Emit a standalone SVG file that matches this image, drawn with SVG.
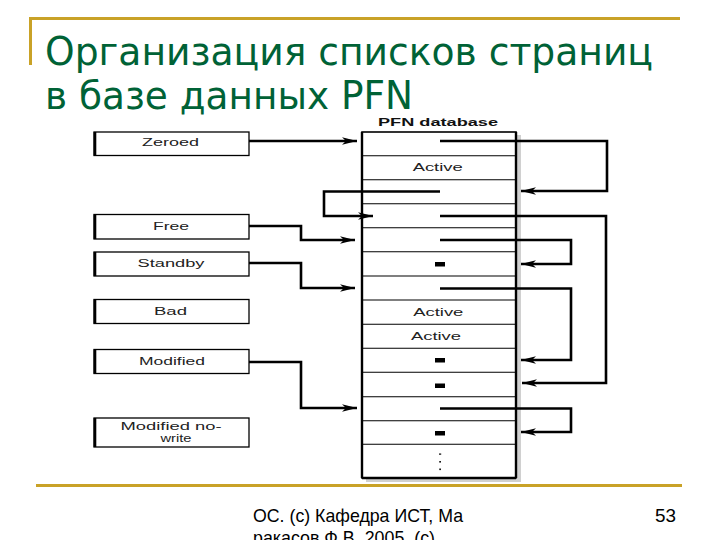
<svg xmlns="http://www.w3.org/2000/svg" width="720" height="540" viewBox="0 0 720 540">
  <style>
    .title { font-family: "DejaVu Sans", "Open Sans", sans-serif; font-size: 39px; fill: #006236; }
    .foot { font-family: "Liberation Sans Narrow", "Liberation Sans", Arial, sans-serif; font-size: 18.5px; fill: #000; }
    .box { fill: #fff; stroke: #000; stroke-width: 1.3; }
    .thick { stroke: #000; stroke-width: 2.6; }
    .lbl { font-family: "Liberation Sans", Arial, sans-serif; font-size: 10px; fill: #222; text-anchor: middle; }
    .row { stroke: #000; stroke-width: 1.1; }
    .conn { fill: none; stroke: #000; stroke-width: 2.6; stroke-linejoin: miter; }
    .dash { fill: #000; }
  </style>
  <defs>
    <marker id="arr" markerUnits="userSpaceOnUse" markerWidth="16" markerHeight="10" refX="15" refY="5" orient="auto">
      <path d="M0,1.2 L15,5 L0,8.8 L4,5 z" fill="#000"/>
    </marker>
  </defs>
  <rect width="720" height="540" fill="#fff"/>

  <!-- slide decoration -->
  <g id="decor">
    <rect x="29" y="17" width="651" height="3" fill="#C9A227"/>
    <rect x="29" y="17" width="3" height="48" fill="#C9A227"/>
    <rect x="36" y="484" width="646" height="3" fill="#C9A227"/>
  </g>

  <g id="title">
    <text class="title" x="45" y="65" textLength="608" lengthAdjust="spacingAndGlyphs">Организация списков страниц</text>
    <text class="title" x="45" y="109" textLength="368" lengthAdjust="spacingAndGlyphs">в базе данных PFN</text>
  </g>

  <!-- list boxes -->
  <g id="zeroed">
    <rect class="box" x="94" y="132" width="155" height="23.5"/>
    <line class="thick" x1="95" y1="132" x2="95" y2="155.5"/>
    <text class="lbl" x="170.5" y="146" textLength="57" lengthAdjust="spacingAndGlyphs">Zeroed</text>
  </g>
  <g id="free">
    <rect class="box" x="94" y="214.5" width="155" height="24.5"/>
    <line class="thick" x1="95" y1="214.5" x2="95" y2="239"/>
    <text class="lbl" x="171" y="229.5" textLength="36" lengthAdjust="spacingAndGlyphs">Free</text>
  </g>
  <g id="standby">
    <rect class="box" x="94" y="252" width="155" height="24"/>
    <line class="thick" x1="95" y1="252" x2="95" y2="276"/>
    <text class="lbl" x="171" y="267" textLength="67" lengthAdjust="spacingAndGlyphs">Standby</text>
  </g>
  <g id="bad">
    <rect class="box" x="94" y="299.5" width="155" height="24"/>
    <line class="thick" x1="95" y1="299.5" x2="95" y2="323.5"/>
    <text class="lbl" x="170.5" y="314.5" textLength="33" lengthAdjust="spacingAndGlyphs">Bad</text>
  </g>
  <g id="modified">
    <rect class="box" x="94" y="349.5" width="155" height="24"/>
    <line class="thick" x1="95" y1="349.5" x2="95" y2="373.5"/>
    <text class="lbl" x="172" y="364.5" textLength="66" lengthAdjust="spacingAndGlyphs">Modified</text>
  </g>
  <g id="modified-no-write">
    <rect class="box" x="94" y="418" width="155" height="29"/>
    <line class="thick" x1="95" y1="418" x2="95" y2="447"/>
    <text class="lbl" x="171" y="430" textLength="101" lengthAdjust="spacingAndGlyphs">Modified no-</text>
    <text class="lbl" x="176" y="441.5" font-size="10.5" textLength="31" lengthAdjust="spacingAndGlyphs">write</text>
  </g>

  <!-- PFN database -->
  <g id="pfn-database">
    <text x="438" y="126" font-family="Liberation Sans, Arial, sans-serif" font-size="10" font-weight="bold" fill="#111" text-anchor="middle" textLength="120" lengthAdjust="spacingAndGlyphs">PFN database</text>
    <rect x="517" y="135" width="4" height="346" fill="#d0d0d0"/>
    <rect x="366" y="479" width="155" height="3" fill="#d0d0d0"/>
    <rect x="362" y="132" width="154" height="346" fill="#fff" stroke="#000" stroke-width="1.6"/>
    <line x1="362" y1="132" x2="362" y2="478" stroke="#000" stroke-width="2.4"/>
    <line x1="516" y1="132" x2="516" y2="478" stroke="#000" stroke-width="2.4"/>
    <line x1="362" y1="478" x2="516" y2="478" stroke="#000" stroke-width="2.6"/>
    <line class="row" x1="362" y1="155.7" x2="516" y2="155.7"/>
    <line class="row" x1="362" y1="179.7" x2="516" y2="179.7"/>
    <line class="row" x1="362" y1="203.7" x2="516" y2="203.7"/>
    <line class="row" x1="362" y1="227.7" x2="516" y2="227.7"/>
    <line class="row" x1="362" y1="251.7" x2="516" y2="251.7"/>
    <line class="row" x1="362" y1="276" x2="516" y2="276"/>
    <line class="row" x1="362" y1="300" x2="516" y2="300"/>
    <line class="row" x1="362" y1="324.3" x2="516" y2="324.3"/>
    <line class="row" x1="362" y1="348.3" x2="516" y2="348.3"/>
    <line class="row" x1="362" y1="372.3" x2="516" y2="372.3"/>
    <line class="row" x1="362" y1="396.7" x2="516" y2="396.7"/>
    <line class="row" x1="362" y1="420.7" x2="516" y2="420.7"/>
    <line class="row" x1="362" y1="444.3" x2="516" y2="444.3"/>
    <text class="lbl" x="437.7" y="171" textLength="50" lengthAdjust="spacingAndGlyphs">Active</text>
    <text class="lbl" x="438.3" y="315.5" textLength="50" lengthAdjust="spacingAndGlyphs">Active</text>
    <text class="lbl" x="436" y="339.5" textLength="50" lengthAdjust="spacingAndGlyphs">Active</text>
    <rect class="dash" x="435" y="262" width="10" height="4.5"/>
    <rect class="dash" x="435" y="358" width="10" height="4.5"/>
    <rect class="dash" x="435" y="383.5" width="10" height="4.5"/>
    <rect class="dash" x="435" y="431" width="10" height="4.5"/>
    <rect class="dash" x="439" y="453.5" width="2.2" height="1.2"/>
    <rect class="dash" x="439.3" y="461" width="1.6" height="1.6"/>
    <rect class="dash" x="439.3" y="468.5" width="1.6" height="1.6"/>
  </g>

  <!-- connectors -->
  <g id="connectors">
    <path class="conn" d="M249,141 H357" stroke-width="2.2" marker-end="url(#arr)"/>
    <path class="conn" d="M249,226 H301 V240 H355" marker-end="url(#arr)"/>
    <path class="conn" d="M249,263 H301 V288 H355" marker-end="url(#arr)"/>
    <path class="conn" d="M249,362 H301 V408 H357" stroke-width="3.4" marker-end="url(#arr)"/>
    <path class="conn" d="M440,191.5 H324 V216 H373" stroke-width="3" marker-end="url(#arr)"/>
    <path class="conn" d="M440,141 H607 V191 H521" stroke-width="2.8" marker-end="url(#arr)"/>
    <path class="conn" d="M440,216 H606 V383 H522" stroke-width="2.8" marker-end="url(#arr)"/>
    <path class="conn" d="M440,240 H571 V264 H521" stroke-width="2.8" marker-end="url(#arr)"/>
    <path class="conn" d="M440,288.5 H571 V360 H521" stroke-width="2.8" marker-end="url(#arr)"/>
    <path class="conn" d="M440,408.5 H571 V432 H521" stroke-width="2.8" marker-end="url(#arr)"/>
  </g>

  <g id="footer">
    <text class="foot" x="253" y="522" textLength="210" lengthAdjust="spacingAndGlyphs">ОС. (c) Кафедра ИСТ, Ма</text>
    <text class="foot" x="253" y="544" textLength="182" lengthAdjust="spacingAndGlyphs">ракасов Ф.В. 2005. (c)</text>
    <text class="foot" x="655" y="522" textLength="21" lengthAdjust="spacingAndGlyphs">53</text>
  </g>
</svg>
